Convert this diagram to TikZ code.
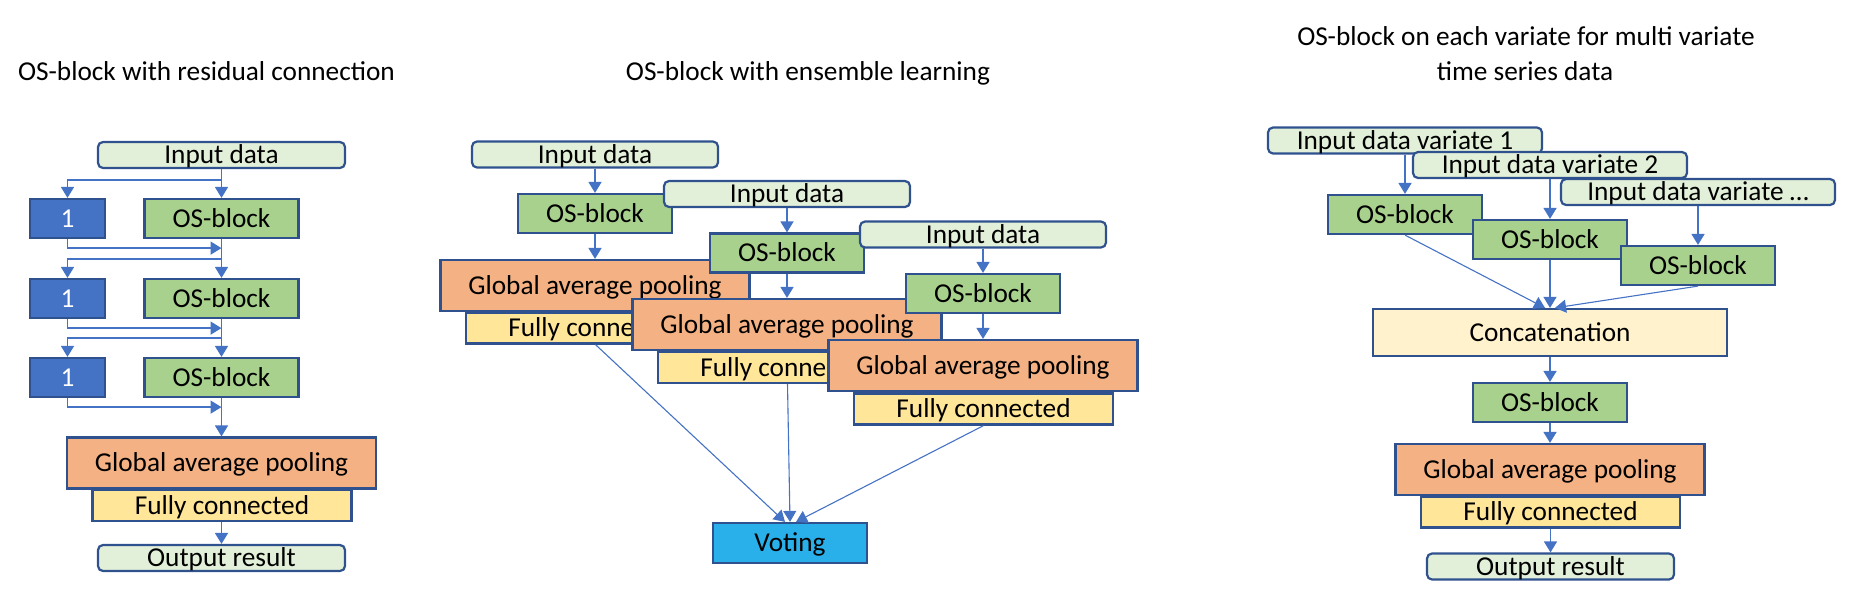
\documentclass[tikz,border=0pt]{standalone}
\usepackage{fontspec}
\setmainfont{Carlito}
\usetikzlibrary{arrows.meta,calc}
\definecolor{bordc}{HTML}{2F528F}
\definecolor{arrc}{HTML}{4472C4}
\definecolor{ingreen}{HTML}{E2F0D9}
\definecolor{osgreen}{HTML}{A9D18E}
\definecolor{gapor}{HTML}{F4B183}
\definecolor{fcy}{HTML}{FFE699}
\definecolor{catc}{HTML}{FFF2CC}
\definecolor{onec}{HTML}{4472C4}
\definecolor{votec}{HTML}{29B0EA}
\tikzset{
  box/.style={draw=bordc, line width=2.2pt, inner sep=0pt, font=\fontsize{27.3}{33}\selectfont, text height=17.6pt, text depth=0pt},
  inbox/.style={box, fill=ingreen, rounded corners=5pt, minimum height=26pt},
  osbox/.style={box, fill=osgreen, minimum width=154pt, minimum height=39pt},
  onebox/.style={box, fill=onec, text=white, minimum width=75pt, minimum height=39pt},
  gapbox/.style={box, fill=gapor, minimum width=309pt, minimum height=51pt},
  fcbox/.style={box, fill=fcy, minimum width=259pt, minimum height=31pt},
  catbox/.style={box, fill=catc, minimum width=354pt, minimum height=47pt},
  votebox/.style={box, fill=votec, minimum width=154pt, minimum height=40pt},
  titletext/.style={inner sep=0pt, font=\fontsize{27.3}{33}\selectfont, text height=17.6pt, text depth=0pt},
  conn/.style={draw=arrc, line width=1.6pt, -{Triangle[width=13pt,length=11pt]}},
  thinconn/.style={draw=arrc, line width=1.1pt, -{Triangle[width=13pt,length=11pt]}},
}
\begin{document}
\begin{tikzpicture}[x=1pt,y=-1pt]
\useasboundingbox (0,0) rectangle (1851,592);
% titles
\node[titletext] (t1) at (206.5,72) {OS-block with residual connection};
\node[titletext] (t2) at (808,72) {OS-block with ensemble learning};
\node[titletext] (t3a) at (1526,37) {OS-block on each variate for multi variate};
\node[titletext] (t3b) at (1525,72) {time series data};

% ---------- panel 1 ----------
\node[inbox, minimum width=247pt] (in1) at (221.5,155) {Input data};
\node[onebox] (one1) at (67.5,218.5) {1};
\node[osbox] (os1) at (221.5,218.5) {OS-block};
\node[onebox] (one2) at (67.5,298.5) {1};
\node[osbox] (os2) at (221.5,298.5) {OS-block};
\node[onebox] (one3) at (67.5,377.5) {1};
\node[osbox] (os3) at (221.5,377.5) {OS-block};
\node[gapbox] (gap1) at (221.5,463) {Global average pooling};
\node[fcbox] (fc1) at (222,505.5) {Fully connected};
\node[inbox, minimum width=247pt] (out1) at (221.5,558) {Output result};

\draw[conn] (in1.south) -- (os1.north);
\draw[conn] ($(in1.south)+(0,11)$) -| (one1.north);
\draw[conn] (one1.south) |- ($(os1.south)+(0,9)$);
\draw[conn] (os1.south) -- (os2.north);
\draw[conn] ($(os1.south)+(0,20)$) -| (one2.north);
\draw[conn] (one2.south) |- ($(os2.south)+(0,9)$);
\draw[conn] (os2.south) -- (os3.north);
\draw[conn] ($(os2.south)+(0,19)$) -| (one3.north);
\draw[conn] (one3.south) |- ($(os3.south)+(0,9)$);
\draw[conn] (os3.south) -- (gap1.north);
\draw[conn] (fc1.south -| out1.north) -- (out1.north);

% ---------- panel 2 ----------
\node[inbox, minimum width=246pt] (inA) at (595,154.5) {Input data};
\node[osbox] (osA) at (595,213.5) {OS-block};
\node[gapbox] (gapA) at (595,285.5) {Global average pooling};
\node[fcbox] (fcA) at (595.5,328) {Fully connected};
\draw[conn] (inA.south) -- (osA.north);
\draw[conn] (osA.south) -- (gapA.north);

\node[inbox, minimum width=246pt] (inB) at (787,194) {Input data};
\node[osbox] (osB) at (787,253) {OS-block};
\node[gapbox] (gapB) at (787,324.5) {Global average pooling};
\node[fcbox] (fcB) at (787.5,367.5) {Fully connected};
\draw[conn] (inB.south) -- (osB.north);
\draw[conn] (osB.south) -- (gapB.north);

\node[inbox, minimum width=246pt] (inC) at (983,234.5) {Input data};
\node[osbox] (osC) at (983,293.5) {OS-block};
\node[gapbox] (gapC) at (983,365.5) {Global average pooling};
\node[fcbox] (fcC) at (983.5,409) {Fully connected};
\draw[conn] (inC.south) -- (osC.north);
\draw[conn] (osC.south) -- (gapC.north);

\node[votebox] (vote) at (790,543) {Voting};
\draw[thinconn] (fcA.south) -- ($(vote.north)+(-5,0)$);
\draw[thinconn] (fcB.south) -- (vote.north);
\draw[thinconn] (fcC.south) -- ($(vote.north)+(6,0)$);

% ---------- panel 3 ----------
\node[inbox, minimum width=274pt] (v1) at (1405,140.5) {Input data variate 1};
\node[inbox, minimum width=274pt] (v2) at (1550,165) {Input data variate 2};
\node[inbox, minimum width=274pt] (v3) at (1698,192) {Input data variate \dots};
\node[osbox] (osP) at (1405,214.5) {OS-block};
\node[osbox] (osQ) at (1550,239.5) {OS-block};
\node[osbox] (osR) at (1698,265.5) {OS-block};
\draw[conn] (v1.south) -- (osP.north);
\draw[conn] (v2.south) -- (osQ.north);
\draw[conn] (v3.south) -- (osR.north);

\node[catbox] (cat) at (1550,332.5) {Concatenation};
\draw[thinconn] (osP.south) -- ($(cat.north)+(-5,0)$);
\draw[thinconn] (osQ.south) -- (cat.north);
\draw[thinconn] (osR.south) -- ($(cat.north)+(5,0)$);

\node[osbox] (osS) at (1550,402.5) {OS-block};
\node[gapbox] (gapP) at (1550,469.5) {Global average pooling};
\node[fcbox] (fcP) at (1550.5,512) {Fully connected};
\node[inbox, minimum width=247pt] (outP) at (1550.5,566.5) {Output result};
\draw[conn] (cat.south) -- (osS.north);
\draw[conn] (osS.south) -- (gapP.north);
\draw[conn] (fcP.south) -- (outP.north);
\end{tikzpicture}
\end{document}
